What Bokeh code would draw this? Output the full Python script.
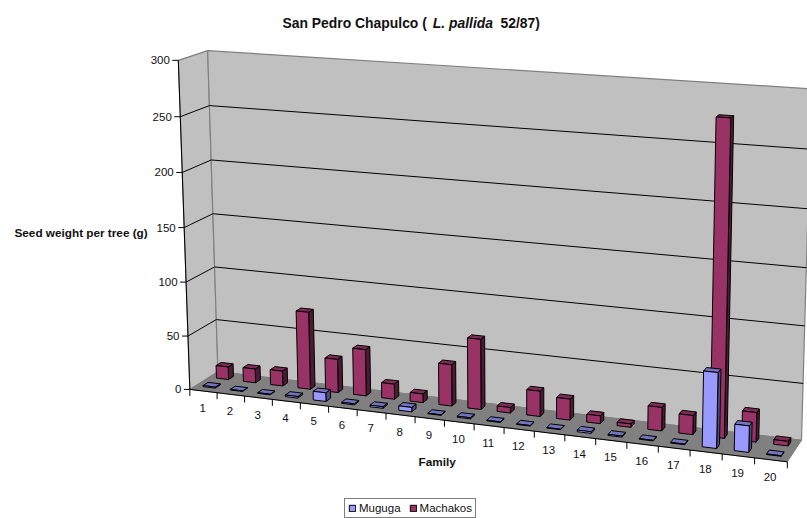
import numpy as np
from bokeh.embed import file_html
from bokeh.resources import INLINE
from bokeh.core.properties import value
from bokeh.models import Range1d, Legend, LegendItem
from bokeh.plotting import figure

# Seed weight per tree (g) for each family
families = [str(i) for i in range(1, 21)]
muguga = [1, 0.5, 0.5, 1.5, 8, 1, 1.5, 4, 0.5, 1, 0.5, 0.5, 0.5, 1.5, 1, 0.5, 0.5, 66, 23, 0.5]
machakos = [12, 13, 14, 72, 31, 43, 14, 8, 38, 64, 5, 23, 19, 7, 3, 21, 17, 275, 26, 4]
value_ticks = [0, 50, 100, 150, 200, 250, 300]
VMAX = 300

FONT = "Liberation Sans"
W, H = 807, 518

# Anchors of the view: (family fraction, depth fraction, height fraction) -> page pixel
anchors = [
    ((0, 0, 0), (190, 388)),
    ((0, 0, 1), (178, 60)),
    ((0, 1, 0), (217, 372)),
    ((0, 1, 1), (207, 50)),
    ((1, 0, 0), (787, 461.5)),
    ((1, 1, 0), (801, 439)),
    ((1, 1, 1), (811, 88.2)),
    ((0, 0, 0.5), (183, 227)),
    ((0, 1, 0.5), (213, 213)),
    ((0.5, 0, 0), (473.3, 424)),
    ((1, 1, 1 / 6), (802.6, 383)),
    ((1, 1, 5 / 6), (809, 149)),
]


def fit_camera(pairs):
    rows = []
    for (a, b, c), (u, v) in pairs:
        rows.append([a, b, c, 1, 0, 0, 0, 0, -u * a, -u * b, -u * c, -u])
        rows.append([0, 0, 0, 0, a, b, c, 1, -v * a, -v * b, -v * c, -v])
    return np.linalg.svd(np.array(rows, float))[2][-1].reshape(3, 4)


CAM = fit_camera(anchors)


def project(a, b, c):
    q = CAM @ np.array([a, b, c, 1.0])
    return q[0] / q[2], q[1] / q[2]


def face(points):
    pts = [project(*pt) for pt in points]
    return [pt[0] for pt in pts], [pt[1] for pt in pts]


def polys(faces):
    return [f[0] for f in faces], [f[1] for f in faces]


p = figure(width=W, height=H, x_range=Range1d(0, W), y_range=Range1d(H, 0),
           output_backend="svg", toolbar_location=None, min_border=0,
           x_axis_location=None, y_axis_location=None,
           background_fill_color="white", border_fill_color="white",
           outline_line_color=None)
p.grid.visible = False

# Walls and floor
wall_left = face([(0, 0, 0), (0, 1, 0), (0, 1, 1), (0, 0, 1)])
wall_back = face([(0, 1, 0), (1, 1, 0), (1, 1, 1), (0, 1, 1)])
floor = face([(0, 0, 0), (1, 0, 0), (1, 1, 0), (0, 1, 0)])
p.patches(*polys([wall_left, wall_back]), fill_color="#C0C0C0", line_color="#808080", line_width=1.2)
p.patches(*polys([floor]), fill_color="#808080", line_color="#808080", line_width=1)

# Gridlines across both walls
grid_xs, grid_ys = [], []
for t in value_ticks[1:-1]:
    gx, gy = face([(0, 0, t / VMAX), (0, 1, t / VMAX), (1, 1, t / VMAX)])
    grid_xs.append(gx)
    grid_ys.append(gy)
p.multi_line(grid_xs, grid_ys, line_color="black", line_width=1)

# Axis lines and tick marks
edge_y = face([(0, 0, 0), (0, 0, 1)])
edge_x = face([(0, 0, 0), (1, 0, 0)])
p.multi_line([edge_y[0], edge_x[0]], [edge_y[1], edge_x[1]], line_color="black", line_width=1)

tx0, ty0, tx1, ty1 = [], [], [], []
for t in value_ticks:
    x, y = project(0, 0, t / VMAX)
    tx0.append(x - 6); ty0.append(y); tx1.append(x); ty1.append(y)
for i in range(len(families) + 1):
    x, y = project(i / len(families), 0, 0)
    tx0.append(x); ty0.append(y); tx1.append(x); ty1.append(y + 6.5)
p.segment(tx0, ty0, tx1, ty1, line_color="black", line_width=1)

vx, vy, vt = [], [], []
for t in value_ticks:
    x, y = project(0, 0, t / VMAX)
    vx.append(x - 8.5); vy.append(y); vt.append(str(t))
p.text(vx, vy, text=vt, text_font=value(FONT), text_font_size="11.5px", text_color="#111111",
       text_align="right", text_baseline="middle")

fx, fy = [], []
for i, _ in enumerate(families):
    x, y = project((i + 0.5) / len(families), 0, 0)
    fx.append(x - 0.8); fy.append(y + 17)
p.text(fx, fy, text=families, text_font=value(FONT), text_font_size="11.5px", text_color="#111111",
       text_align="center", text_baseline="middle")


# Column faces for one series
BAR_W = 0.45 / len(families)


def bars(values, d0, d1, front_c, top_c, side_c):
    fronts, tops, sides = [], [], []
    for i, v in enumerate(values):
        cx = (i + 0.5) / len(families)
        a0, a1 = cx - BAR_W / 2, cx + BAR_W / 2
        h = v / VMAX
        fronts.append(face([(a0, d0, 0), (a1, d0, 0), (a1, d0, h), (a0, d0, h)]))
        tops.append(face([(a0, d0, h), (a1, d0, h), (a1, d1, h), (a0, d1, h)]))
        sides.append(face([(a1, d0, 0), (a1, d1, 0), (a1, d1, h), (a1, d0, h)]))
    style = dict(line_color="black", line_width=1, line_join="round")
    p.patches(*polys(sides), fill_color=side_c, **style)
    p.patches(*polys(tops), fill_color=top_c, **style)
    return p.patches(*polys(fronts), fill_color=front_c, **style)


r_mach = bars(machakos, 0.68, 0.86, "#993366", "#802B55", "#4D1A33")
r_mug = bars(muguga, 0.20, 0.38, "#9999FF", "#7373BF", "#4D4D80")

# Title: roman and italic runs set side by side
label_style = dict(text_font=value(FONT), text_color="#111111",
                   text_baseline="alphabetic", text_align="left")
p.text([282], [22.5], text=["San Pedro Chapulco ("], text_font_style="bold", text_font_size="13.9px", **label_style)
p.text([432.3], [22.5], text=["L. pallida"], text_font_style="bold italic", text_font_size="13.9px", **label_style)
p.text([500], [22.5], text=["52/87)"], text_font_style="bold", text_font_size="13.9px", **label_style)

p.text([14], [232], text=["Seed weight per tree (g)"], text_font_style="bold", text_font_size="11.75px", **label_style)
p.text([418], [461], text=["Family"], text_font_style="bold", text_font_size="11.75px", **label_style)

legend = Legend(items=[LegendItem(label="Muguga", renderers=[r_mug]),
                       LegendItem(label="Machakos", renderers=[r_mach])],
                orientation="horizontal", location=(344, 0),
                label_text_font=FONT, label_text_font_size="11.5px", label_text_color="#111111",
                glyph_width=8, glyph_height=8, label_standoff=3, spacing=8,
                padding=3, margin=0, border_line_color="black", border_line_width=1,
                background_fill_color="white", background_fill_alpha=1)
p.add_layout(legend, "center")

open("out.html", "w").write(file_html(p, INLINE))
